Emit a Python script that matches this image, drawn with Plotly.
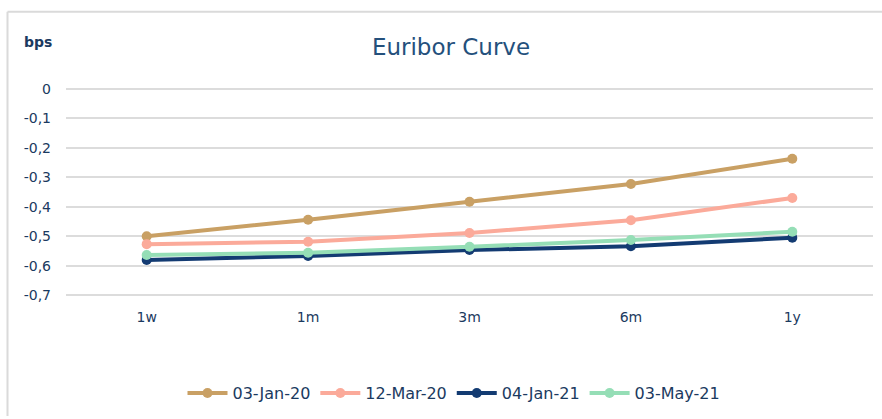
import plotly.graph_objects as go

tenors = ["1w", "1m", "3m", "6m", "1y"]
s_jan20 = [-0.500, -0.444, -0.383, -0.323, -0.237]
s_mar20 = [-0.527, -0.519, -0.489, -0.446, -0.370]
s_jan21 = [-0.581, -0.567, -0.547, -0.534, -0.505]
s_may21 = [-0.564, -0.556, -0.536, -0.513, -0.485]
series_names = ["03-Jan-20", "12-Mar-20", "04-Jan-21", "03-May-21"]
colors = ["#C9A064", "#FBAA9A", "#133B72", "#95DEB6"]
ytick_vals = [0, -0.1, -0.2, -0.3, -0.4, -0.5, -0.6, -0.7]
ytick_text = ["0", "-0,1", "-0,2", "-0,3", "-0,4", "-0,5", "-0,6", "-0,7"]

W, H = 882, 419
ML, MR, MT, MB = 66, 9, 86, 116
FONT = "DejaVu Sans"
TXT = "#1B3A60"

fig = go.Figure()
for name, vals, c in zip(series_names, [s_jan20, s_mar20, s_jan21, s_may21], colors):
    fig.add_trace(go.Scatter(
        x=tenors, y=vals, name=name, mode="lines+markers",
        line=dict(color=c, width=4), marker=dict(color=c, size=10),
    ))

pw = W - ML - MR
ph = H - MT - MB
def px_x(x):
    return (x - ML) / pw
def px_y(y):
    return (H - MB - y) / ph

fig.update_layout(
    width=W, height=H,
    margin=dict(l=ML, r=MR, t=MT, b=MB),
    paper_bgcolor="white", plot_bgcolor="white",
    font=dict(family=FONT, color=TXT, size=14),
    title=dict(text="Euribor Curve", x=px_x(451), xref="paper", xanchor="center", y=1 - 47 / H, yanchor="middle",
               font=dict(size=23, color="#24507C", family=FONT)),
    showlegend=True,
    legend=dict(orientation="h", x=px_x(454), xanchor="center", y=px_y(396), yanchor="middle",
                font=dict(size=16, color=TXT), itemwidth=40, tracegroupgap=0),
    xaxis=dict(range=[-0.5, 4.5], showgrid=False, showline=False, zeroline=False, ticks="",
               tickfont=dict(size=14, color=TXT), ticklabelstandoff=6),
    yaxis=dict(range=[-0.72, 0.01], tickvals=ytick_vals, ticktext=ytick_text,
               showgrid=True, gridcolor="#DCDCDC", gridwidth=1.5, zeroline=False,
               showline=False, ticks="", tickfont=dict(size=14, color=TXT),
               ticklabelstandoff=14),
    annotations=[dict(text="<b>bps</b>", xref="paper", yref="paper",
                      x=px_x(38), y=px_y(42), xanchor="center", yanchor="middle",
                      showarrow=False, font=dict(size=14, color="#1B3A60"))],
    shapes=[
        dict(type="line", xref="paper", yref="paper", x0=px_x(7.5), x1=px_x(882),
             y0=px_y(11), y1=px_y(11), line=dict(color="#DADADA", width=2)),
        dict(type="line", xref="paper", yref="paper", x0=px_x(7.5), x1=px_x(7.5),
             y0=px_y(11), y1=px_y(419), line=dict(color="#DADADA", width=2)),
    ],
)

fig.write_html("out.html")
